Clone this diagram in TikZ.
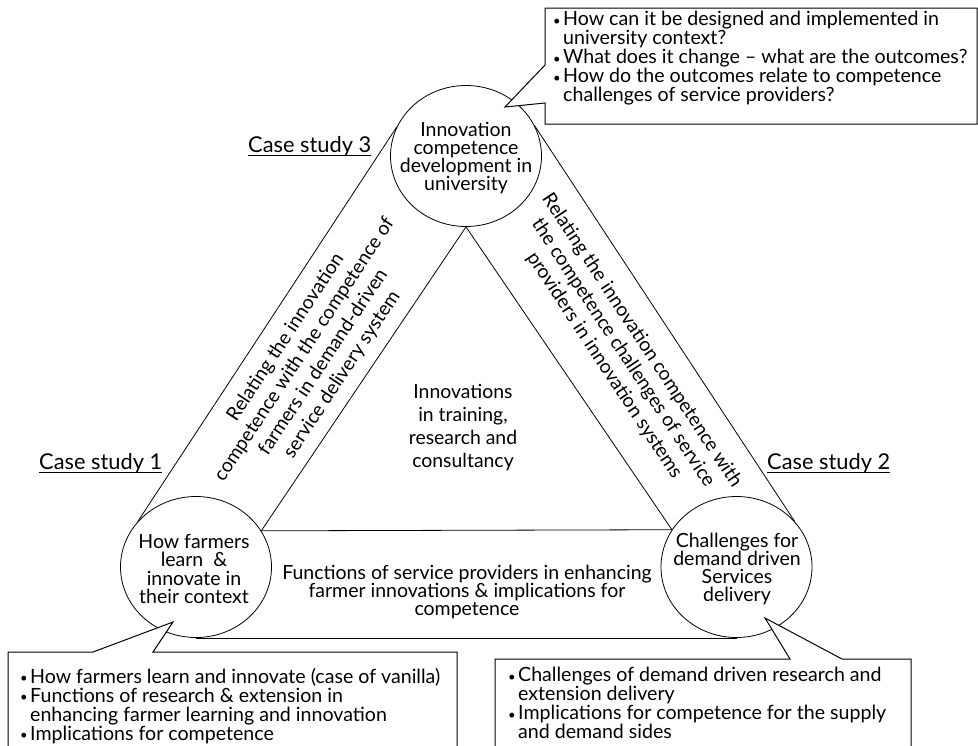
\documentclass[tikz,border=0pt]{standalone}
\usepackage{fontspec}
\setmainfont{Lato}
\usetikzlibrary{shapes.geometric}
\pgfdeclarelayer{bg}
\pgfsetlayers{bg,main}

% small bullet with hanging indent for the callout lists
\newcommand\bulletmark{\makebox[10pt][l]{\fontsize{13}{13}\selectfont\raisebox{0.5pt}{•}}}
\newcommand\hangpad{\hspace*{10pt}}

\begin{document}
\begin{tikzpicture}[x=1pt,y=-1pt,
  link/.style={line width=0.8pt},
  hub/.style={draw,ellipse,line width=0.8pt,fill=white,
    minimum width=151pt,minimum height=141pt,inner sep=0pt},
  label/.style={align=center,inner sep=0pt,font=\fontsize{19.5}{18.3}\selectfont},
  bandtext/.style={align=center,inner sep=0pt,font=\fontsize{19.3}{22.5}\selectfont},
  callout/.style={draw,line width=1pt,fill=white,line join=miter},
  bullets/.style={align=left,inner sep=0pt,anchor=north west,
    font=\fontsize{19.6}{19}\selectfont},
  casetag/.style={inner sep=0pt,anchor=base west,font=\fontsize{21.8}{22}\selectfont},
]
\path[use as bounding box] (0,0) rectangle (978,745);
\begin{pgfonlayer}{bg}
\fill[white] (0,0) rectangle (978,745);
\end{pgfonlayer}

% the three hubs
\node[hub] (top) at (466,156) {};
\node[hub] (lft) at (196,567) {};
\node[hub] (rgt) at (736.5,567) {};

\node[label] (topT) at (466,158) {Innovation\\competence\\development in\\university};
\node[label] (lftT) at (194,569) {How farmers\\learn~ \&\\innovate in\\their context};
\node[label] (rgtT) at (737,569) {Challenges for\\demand driven\\Services\\delivery};

% inner triangle and outer band, behind the hubs
\begin{pgfonlayer}{bg}
\draw[link] (lft.29.6) -- (top.south) -- (rgt.150.2);
\draw[link] (lft.29.6) -- (rgt.150.2);
\draw[link] (lft.142.7) -- (top.157.8);
\draw[link] (top.24.8) -- (rgt.38.8);
\draw[link] (lft.south) -- (rgt.south);
\end{pgfonlayer}

% band and centre texts
\node[bandtext,rotate=56.6] (bandL) at (314,356)
  {Relating the innovation\\competence with the competence of\\farmers in demand-driven\\service delivery system};
\node[bandtext,rotate=-56.6] (bandR) at (623,353)
  {Relating the innovation competence with\\the competence challenges of service\\providers in innovation systems};
\node[label] (bandB) at (467,592)
  {Functions of service providers in enhancing\\farmer innovations \& implications for\\competence};
\node[label,font=\fontsize{19.4}{23}\selectfont] (core) at (463,428)
  {Innovations\\in training,\\research and\\consultancy};

% case study tags
\node[casetag] (cs3) at (248,152) {Case study 3};
\node[casetag] (cs1) at (39,469) {Case study 1};
\node[casetag] (cs2) at (767,469) {Case study 2};
\foreach \t in {cs1,cs2,cs3}
  \draw[line width=0.9pt] ([yshift=-3pt]\t.base west) -- ([yshift=-3pt]\t.base east);

% callouts
\coordinate (tipT) at (505,107);
\draw[callout] (545,8) -- (977,8) -- (977,124) -- (545,124) -- (545,103)
  -- (tipT) -- (545,65) -- cycle;
\node[bullets] (qT) at (553,11)
  {\bulletmark How can it be designed and implemented in\\
   \hangpad university context?\\
   \bulletmark What does it change – what are the outcomes?\\
   \bulletmark How do the outcomes relate to competence\\
   \hangpad challenges of service providers?};

\coordinate (tipL) at (173,622);
\draw[callout] (8,760) -- (8,652) -- (93,652) -- (tipL) -- (153,652)
  -- (457,652) -- (457,760);
\node[bullets] (qL) at (20,668)
  {\bulletmark How farmers learn and innovate (case of vanilla)\\
   \bulletmark Functions of research \& extension in\\
   \hangpad enhancing farmer learning and innovation\\
   \bulletmark Implications for competence};

\coordinate (tipR) at (765,618);
\draw[callout] (495,760) -- (495,659) -- (790,659) -- (tipR) -- (842,659)
  -- (911,659) -- (911,760);
\node[bullets] (qR) at (508,667)
  {\bulletmark Challenges of demand driven research and\\
   \hangpad extension delivery\\
   \bulletmark Implications for competence for the supply\\
   \hangpad and demand sides};
\end{tikzpicture}
\end{document}
